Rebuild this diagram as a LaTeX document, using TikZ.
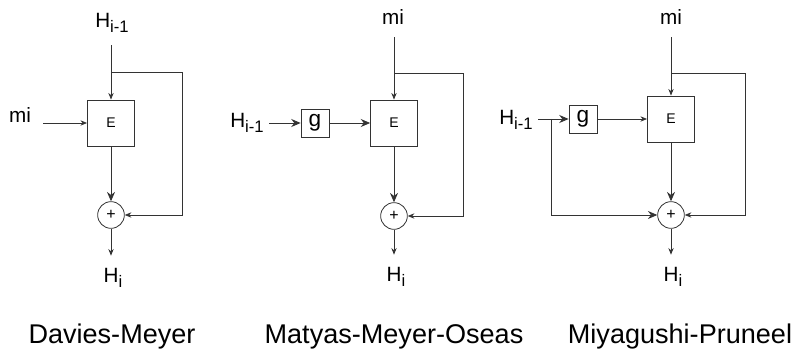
\documentclass[tikz,border=0pt]{standalone}
\usepackage{fontspec}
\setmainfont{Liberation Sans}
\usetikzlibrary{arrows.meta}
\newcommand{\lowidx}[1]{\raisebox{-3.75pt}{\fontsize{12.5}{12.5}\selectfont #1}}

\begin{document}
\begin{tikzpicture}[x=0.75pt, y=-0.75pt, line width=0.6pt,
    arr/.style={draw=black!80, -{Stealth[length=5pt,width=4pt]}},
    barr/.style={draw=black!80, -{Stealth[length=7pt,width=6pt]}},
    ebox/.style={draw=black!80, minimum width=35.25pt, minimum height=34.5pt, inner sep=0pt, font=\fontsize{10.5}{12}\selectfont},
    gbox/.style={draw=black!80, minimum size=21pt, inner sep=0pt, font=\fontsize{17}{18}\selectfont},
    xor/.style={draw=black!80, circle, minimum size=20pt, inner sep=0pt, font=\fontsize{12}{12}\selectfont},
    lbl/.style={anchor=base, inner sep=4pt, font=\fontsize{15.5}{17}\selectfont},
    captxt/.style={anchor=base, inner sep=0pt, font=\fontsize{20.3}{24}\selectfont}]
    \useasboundingbox (0,0) rectangle (794,352);

    % Davies-Meyer
    \node[ebox] (dmE) at (111,123) {E};
    \node[lbl] (dmH) at (112,28) {H\lowidx{i-1}};
    \node[lbl] (dmm) at (20,123) {mi};
    \node[xor] (dmX) at (111,215) {+};
    \node[lbl] (dmO) at (113,283) {H\lowidx{i}};
    \node[captxt] (dmC) at (112,343.5) {Davies-Meyer};
    \coordinate (dmR) at (182,72);
    \coordinate (dmB) at (dmE.north |- dmR);
    \draw[arr, shorten <=5pt] (dmH.south -| dmE) -- (dmE.north);
    \draw[arr] (dmB) -- (dmR) |- (dmX.east);
    \draw[arr, shorten <=5pt] (dmm.east |- dmE) -- (dmE.west);
    \draw[barr] (dmE.south) -- (dmX.north);
    \draw[arr, shorten >=5.5pt] (dmX.south) -- (dmO.north -| dmX);

    % Matyas-Meyer-Oseas
    \node[ebox] (mmE) at (394,123) {E};
    \node[gbox] (mmG) at (315,123) {g};
    \node[lbl] (mmm) at (393,25) {mi};
    \node[lbl] (mmH) at (247,128) {H\lowidx{i-1}};
    \node[xor] (mmX) at (394,216) {+};
    \node[lbl] (mmO) at (396,282) {H\lowidx{i}};
    \node[captxt] (mmC) at (394,343.5) {Matyas-Meyer-Oseas};
    \coordinate (mmR) at (463,73);
    \coordinate (mmB) at (mmE.north |- mmR);
    \draw[arr, shorten <=5pt] (mmm.south -| mmE) -- (mmE.north);
    \draw[arr] (mmB) -- (mmR) |- (mmX.east);
    \draw[barr] (mmH.east |- mmG) -- (mmG.west);
    \draw[barr] (mmG.east) -- (mmE.west);
    \draw[barr] (mmE.south) -- (mmX.north);
    \draw[arr, shorten >=5.5pt] (mmX.south) -- (mmO.north -| mmX);

    % Miyagushi-Pruneel
    \node[ebox] (mpE) at (671,119) {E};
    \node[gbox] (mpG) at (583,119) {g};
    \node[lbl] (mpm) at (671,25) {mi};
    \node[lbl] (mpH) at (516,125) {H\lowidx{i-1}};
    \node[xor] (mpX) at (671,215) {+};
    \node[lbl] (mpO) at (673,282) {H\lowidx{i}};
    \node[captxt] (mpC) at (680,343.5) {Miyagushi-Pruneel};
    \coordinate (mpR) at (745,73);
    \coordinate (mpB) at (mpE.north |- mpR);
    \coordinate (mpL) at (551,119);
    \draw[arr, shorten <=5pt] (mpm.south -| mpE) -- (mpE.north);
    \draw[arr] (mpB) -- (mpR) |- (mpX.east);
    \draw[barr] (mpH.east |- mpG) -- (mpG.west);
    \draw[barr] (mpL) |- (mpX.west);
    \draw[arr] (mpG.east) -- (mpE.west);
    \draw[barr] (mpE.south) -- (mpX.north);
    \draw[arr, shorten >=5.5pt] (mpX.south) -- (mpO.north -| mpX);
\end{tikzpicture}
\end{document}
